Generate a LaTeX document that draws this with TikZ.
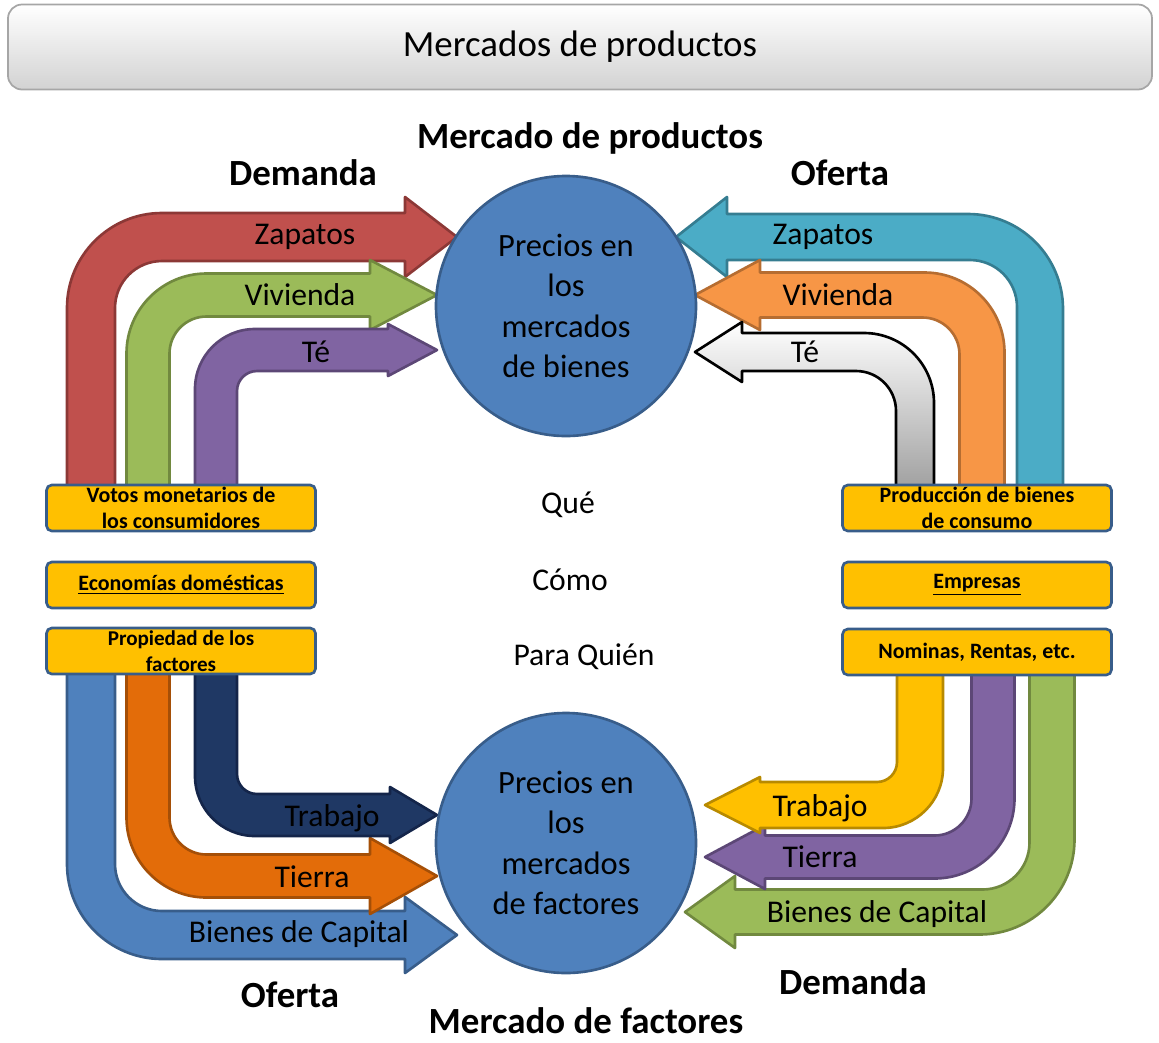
\documentclass[tikz,border=0pt]{standalone}
\usepackage{fontspec}
\setmainfont{Carlito}
\begin{document}
\definecolor{cred}{HTML}{C0504D}\definecolor{bred}{HTML}{8C3836}
\definecolor{cgreen}{HTML}{9BBB59}\definecolor{bgreen}{HTML}{71893F}
\definecolor{cpurple}{HTML}{8064A2}\definecolor{bpurple}{HTML}{5C4776}
\definecolor{cteal}{HTML}{4BACC6}\definecolor{bteal}{HTML}{357D91}
\definecolor{corange}{HTML}{F79646}\definecolor{borange}{HTML}{B66D31}
\definecolor{cnavy}{HTML}{1F3864}\definecolor{bnavy}{HTML}{14254A}
\definecolor{cdorange}{HTML}{E36C09}\definecolor{bdorange}{HTML}{A54F07}
\definecolor{cblue}{HTML}{4F81BD}\definecolor{bblue}{HTML}{385D8A}
\definecolor{cyel}{HTML}{FFC000}\definecolor{byel}{HTML}{B88A00}
\begin{tikzpicture}[x=0.02cm,y=-0.02cm,
  lab/.style={font=\fontsize{18}{20}\selectfont},
  hdr/.style={font=\bfseries\fontsize{21}{23}\selectfont},
  box/.style={draw=bblue,line width=1.5pt,fill=cyel,rounded corners=3pt,minimum width=269*0.02cm,minimum height=46*0.02cm,align=center,inner sep=0pt,font=\bfseries\fontsize{12.5}{15}\selectfont},
  circ/.style={circle,draw=bblue,line width=1.5pt,fill=cblue,minimum size=260*0.02cm,align=center,font=\fontsize{18.5}{23}\selectfont}]
\useasboundingbox (0,0) rectangle (1159,1042);
\newcommand\barr[9]{%
 \pgfmathsetmacro\xo{#3-\sgs*#6/2}\pgfmathsetmacro\xi{#3+\sgs*#6/2}%
 \pgfmathsetmacro\yo{#5-\sgt*#6/2}\pgfmathsetmacro\yi{#5+\sgt*#6/2}%
 \pgfmathsetmacro\ya{#5-\sgt*#9}\pgfmathsetmacro\yc{#5+\sgt*#9}%
 \pgfmathsetmacro\ps{\yo+\sgt*\ro}\pgfmathsetmacro\pc{\yo+\sgt*\ro*0.448}%
 \pgfmathsetmacro\qs{\xo+\sgs*\ro}\pgfmathsetmacro\qc{\xo+\sgs*\ro*0.448}%
 \pgfmathsetmacro\us{\yi+\sgt*\ri}\pgfmathsetmacro\uc{\yi+\sgt*\ri*0.448}%
 \pgfmathsetmacro\vs{\xi+\sgs*\ri}\pgfmathsetmacro\vc{\xi+\sgs*\ri*0.448}%
 \draw[#1,draw=#2,line width=1.5pt,line join=round] (\xo,#4) -- (\xo,\ps) .. controls (\xo,\pc) and (\qc,\yo) .. (\qs,\yo) -- (#7,\yo) -- (#7,\ya) -- (#8,#5) -- (#7,\yc) -- (#7,\yi) -- (\vs,\yi) .. controls (\vc,\yi) and (\xi,\uc) .. (\xi,\us) -- (\xi,#4) -- cycle;}
% banner
\node[draw=gray!70,line width=1pt,top color=white,bottom color=gray!35,rounded corners=8pt,minimum width=1144*0.02cm,minimum height=85*0.02cm,font=\fontsize{21}{23}\selectfont] (ban) at (580,47) {Mercados de productos};
% top left arrows
\def\sgs{1}\def\sgt{1}
\def\ro{95}\def\ri{47}\barr{fill=cred}{bred}{91}{490}{237}{48}{405}{457}{40}
\def\ro{80}\def\ri{37}\barr{fill=cgreen}{bgreen}{148}{490}{295}{43}{370}{437}{35}
\def\ro{60}\def\ri{20}\barr{fill=cpurple}{bpurple}{216}{490}{350}{42}{388}{437}{26}
% top right
\def\sgs{-1}
\def\ro{95}\def\ri{47}\barr{fill=cteal}{bteal}{1040}{490}{237}{46}{727}{676}{40}
\def\ro{80}\def\ri{37}\barr{fill=corange}{borange}{982}{490}{295}{45}{760}{695}{35}
\def\ro{70}\def\ri{40}\barr{top color=white,bottom color=gray!75}{black}{915}{490}{352}{38}{742}{695}{30}
% bottom left
\def\sgs{1}\def\sgt{-1}
\def\ro{95}\def\ri{47}\barr{fill=cblue}{bblue}{91}{670}{935}{48}{405}{457}{38}
\def\ro{80}\def\ri{37}\barr{fill=cdorange}{bdorange}{148}{670}{876}{43}{370}{437}{38}
\def\ro{60}\def\ri{20}\barr{fill=cnavy}{bnavy}{216}{670}{815}{42}{390}{437}{28}
% bottom right
\def\sgs{-1}
\def\ro{95}\def\ri{47}\barr{fill=cgreen}{bgreen}{1052}{670}{912}{45}{735}{685}{36}
\def\ro{80}\def\ri{37}\barr{fill=cpurple}{bpurple}{993}{670}{857}{43}{765}{705}{32}
\def\ro{60}\def\ri{20}\barr{fill=cyel}{byel}{920}{670}{805}{46}{760}{705}{28}
% circles
\node[circ] (c1) at (566,306) {Precios en\\los\\mercados\\de bienes};
\node[circ] (c2) at (566,843) {Precios en\\los\\mercados\\de factores};
% boxes
\node[box] (b1) at (181,508) {Votos monetarios de\\los consumidores};
\node[box] (b2) at (181,585) {\underline{Economías domésticas}};
\node[box,font=\bfseries\fontsize{12}{15}\selectfont] (b3) at (181,651) {Propiedad de los\\factores};
\node[box] (b4) at (977,508) {Producción de bienes\\de consumo};
\node[box] (b5) at (977,585) {\underline{Empresas}};
\node[box] (b6) at (977,652) {Nominas, Rentas, etc.};
% arrow labels
\node[lab] (l1) at (305,237) {Zapatos};
\node[lab] (l2) at (300,295) {Vivienda};
\node[lab] (l3) at (316,352) {Té};
\node[lab] (l4) at (823,237) {Zapatos};
\node[lab] (l5) at (838,295) {Vivienda};
\node[lab] (l6) at (805,352) {Té};
\node[lab] (l7) at (332,818) {Trabajo};
\node[lab] (l8) at (312,877) {Tierra};
\node[lab] (l9) at (299,934) {Bienes de Capital};
\node[lab] (l10) at (820,808) {Trabajo};
\node[lab] (l11) at (820,857) {Tierra};
\node[lab] (l12) at (877,914) {Bienes de Capital};
% headers
\node[hdr] (h1) at (590,138) {Mercado de productos};
\node[hdr] (h2) at (303,173) {Demanda};
\node[hdr] (h3) at (840,173) {Oferta};
\node[hdr] (h4) at (290,995) {Oferta};
\node[hdr] (h5) at (853,982) {Demanda};
\node[hdr] (h6) at (586,1021) {Mercado de factores};
\node[lab] (m1) at (568,505) {Qué};
\node[lab] (m2) at (570,580) {Cómo};
\node[lab] (m3) at (584,657) {Para Quién};
\end{tikzpicture}
\end{document}
